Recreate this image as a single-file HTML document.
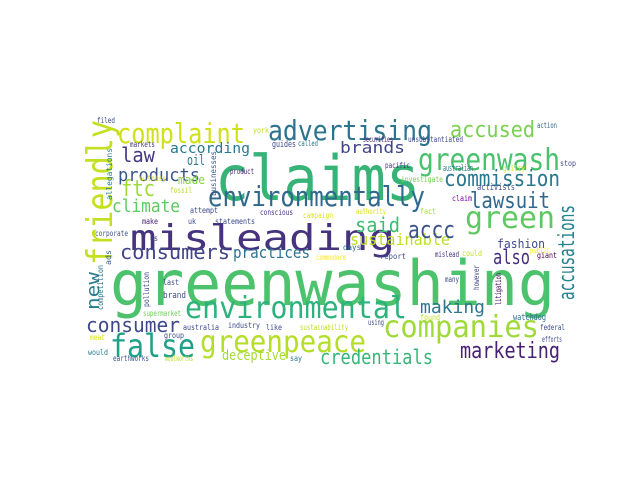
<!DOCTYPE html>
<html><head><meta charset="utf-8"><style>
html,body{margin:0;padding:0;background:#fff;}
svg{display:block;}
text{font-family:"DejaVu Sans Mono","Liberation Mono",monospace;}
</style></head><body>
<svg id="cloud" width="640" height="480" viewBox="0 0 640 480" xmlns="http://www.w3.org/2000/svg">
<rect width="640" height="480" fill="#fff"/>
</svg>
<script>
const words = ["greenwashing","claims","misleading","environmentally","friendly","complaint","advertising","greenwash","accused","commission","lawsuit","green","accusations","environmental","greenpeace","companies","false","marketing","credentials","consumer","consumers","practices","making","also","sustainable","said","accc","ftc","climate","products","law","according","oil","made","brands","new","fashion","deceptive",
"filed","york","markets","guides","called","allegations","businesses","product","witness","fossil","attempt","conscious","campaign","make","uk","statements","corporate","us","securities","unsubstantiated","action","pacific","australian","guilty","stop","investigate","activists","claim","fact","authority","days","ads","competition","pollution","last","brand","supermarket","australia","industry","like","sustainability","meat","group","would","earthworks","woolworths","say","could","public","giant","report","mislead","many","however","litigation","found","watchdog","federal","efforts","using","commodore"];
const weights = [62,62,36,28,36,28,28,30,22,22,22,30,22,30,30,30,32,22,20,20,20,16,18,20,16,20,24,22,18,18,20,14,14,12,16,18,12,14,
8,8,8,9,8,8,8,8,8,8,8,8,8,8,8,8,8,8,8,8,8,8,9,8,8,8,9,8,8,8,8,8,8,8,8,9,8,8,8,8,8,8,8,8,8,8,8,8,8,8,8,8,8,8,8,8,9,8,8,8,8];
const colors = ["#4cc26c","#38b377","#46327e","#30688e","#c5e021","#d0e11c","#2c738e","#4ac16d","#7ad151","#2a788e","#31688e","#5ec962","#26828e","#2db27d","#b5de2b","#a0da39","#1fa088","#482173","#35b779","#3e4a89","#414487","#2c728e","#2a788e","#472c7a","#bddf26","#3fbc73","#3b528b","#a0da39","#5ec962","#39568c","#453781","#2a788e","#2a788e","#86d549","#414487","#287d8e","#3e4a89","#a5db36",
"#3e4a89","#c0df25","#443983","#3e4a89","#2a788e","#287d8e","#3b528b","#482475","#dde318","#b5de2b","#3e4a89","#46327e","#dde318","#482475","#3e4a89","#3e4a89","#3b528b","#3e4a89","#482475","#3e4a89","#33638d","#46327e","#2c728e","#d8e219","#3e4a89","#73d056","#3e4a89","#7e03a8","#a0da39","#dde318","#31688e","#33638d","#2c728e","#3e4a89","#3e4a89","#3e4a89","#6ece58","#3e4a89","#3e4a89","#3e4a89","#bddf26","#dde318","#3e4a89","#287d8e","#3b528b","#bddf26","#2c728e","#c0df25","#fde725","#440154","#3e4a89","#46327e","#3e4a89","#3e4a89","#440154","#bddf26","#2c728e","#3e4a89","#3e4a89","#3e4a89","#fde725"];
// layout: x, baseline y, drawn length, rotation
const posX = [110,215,130,208,112,117,268,418,450,444,470,465,574,185,200,383,110,460,320,86,120,233,420,493,350,355,408,121,112,118,121,170,187,178,340,99,497,222,
97,253,130,272,298,112,216,230,140,170,190,260,303,142,188,215,95,150,363,408,537,385,443,503,560,401,477,452,420,356,343,111,103,149,163,163,143,183,228,266,300,90,164,88,113,165,290,462,530,537,380,435,445,479,501,420,513,540,542,368,316];
const posY = [305,200,250,206,265,143,140,170,137,186,208,228,300,318,352,337,357,358,364,332,259,258,313,264,245,232,238,196,212,181,162,153,165,184,153,310,248,360,
123,133,147,147,146,200,196,174,181,193,213,215,218,224,224,224,236,241,142,142,128,168,171,171,166,182,190,201,214,214,250,265,310,307,285,298,316,330,328,330,330,340,338,355,361,361,361,256,253,258,259,257,282,290,305,320,320,330,342,325,260];
const lens = [445,205,265,217,145,128,164,142,85,116,80,90,95,222,166,156,85,100,113,94,110,77,65,37,100,45,47,34,68,82,34,80,18,27,65,38,48,64,
18,16,25,24,20,52,45,24,26,22,28,33,30,16,8,40,33,8,30,55,20,25,30,22,16,42,38,20,16,30,18,15,45,35,16,23,38,36,32,16,48,15,20,20,36,28,12,20,20,20,26,24,14,25,32,20,33,25,20,16,30];
const rots = [0,0,0,0,-90,0,0,0,0,0,0,0,-90,0,0,0,0,0,0,0,0,0,0,0,0,0,0,0,0,0,0,0,0,0,0,-90,0,0,
0,0,0,0,0,-90,-90,0,0,0,0,0,0,0,0,0,0,0,0,0,0,0,0,0,0,0,0,0,0,0,0,-90,-90,-90,0,0,0,0,0,0,0,0,0,0,0,0,0,0,0,0,0,0,0,-90,-90,0,0,0,0,0,0];
const svg = document.getElementById('cloud');
const NS = 'http://www.w3.org/2000/svg';
for (let i = 0; i < words.length; i++) {
  const t = document.createElementNS(NS, 'text');
  
  
  t.setAttribute('x', posX[i]);
  t.setAttribute('y', posY[i]);
  t.setAttribute('font-size', weights[i]);
  t.setAttribute('fill', colors[i]);
  t.setAttribute('textLength', lens[i]);
  t.setAttribute('lengthAdjust', 'spacingAndGlyphs');
  if (rots[i]) t.setAttribute('transform', 'rotate(' + rots[i] + ' ' + posX[i] + ' ' + posY[i] + ')');
  t.textContent = words[i];
  svg.appendChild(t);
}
</script>
</body></html>
